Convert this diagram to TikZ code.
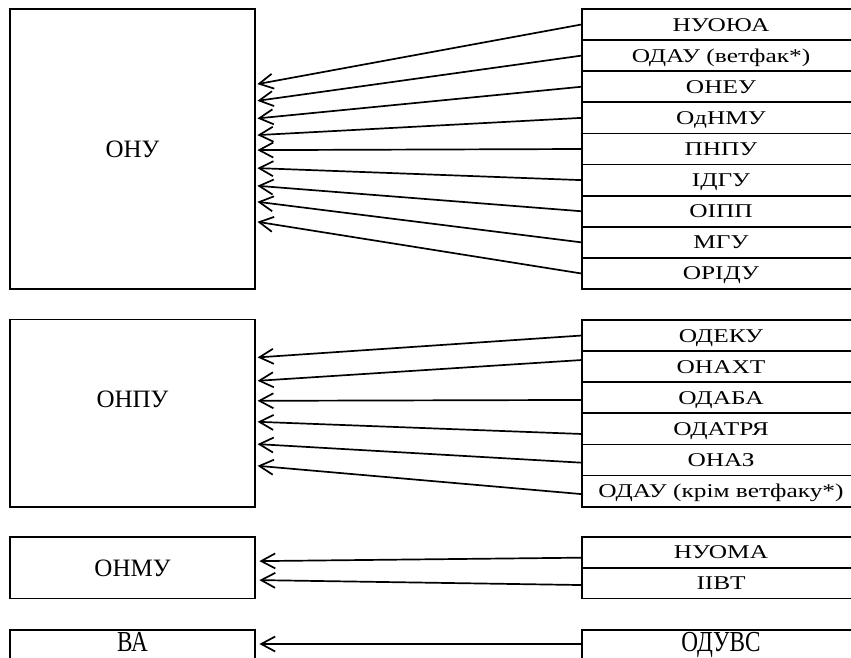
\documentclass[tikz,border=0pt]{standalone}
\usepackage{fontspec}
\setmainfont{Liberation Serif}
\newfontfamily\rfont{Liberation Serif}[FakeStretch=1.3]
\newfontfamily\bfont{Liberation Serif}[FakeStretch=0.8]
\usetikzlibrary{arrows.meta,calc}
\begin{document}
\begin{tikzpicture}[x=1pt,y=-1pt,
  lbox/.style={draw,line width=1.8pt,inner sep=0pt,minimum width=245pt,
    font=\fontsize{25}{25}\selectfont,text height=16.5pt,text depth=0pt},
  ltext/.style={inner sep=0pt,font=\fontsize{25}{25}\selectfont,text height=16.5pt,text depth=0pt},
  rrow/.style={draw,line width=1.8pt,inner sep=0pt,minimum width=278pt,
    font=\rfont\fontsize{19.5}{19.5}\selectfont,text height=12.9pt,text depth=0pt},
  bbox/.style={draw,line width=1.8pt,inner sep=0pt,minimum height=31pt,
    font=\bfont\fontsize{29}{30}\selectfont,text height=19.2pt,text depth=8pt},
  arr/.style={line width=1.7pt,-{Straight Barb[length=14pt,width=15pt]}}]
\useasboundingbox (0,0) rectangle (851,657);

% ---------- group 1 ----------
\node[lbox,minimum height=280pt] (L1) at (132.5,149) {ОНУ};
\foreach \t [count=\i] in {НУОЮА,ОДАУ (ветфак*),ОНЕУ,ОдНМУ,ПНПУ,ІДГУ,ОІПП,МГУ,ОРІДУ}
  \node[rrow,minimum height=31.11pt] (a\i) at (721,{9+31.11*(\i-0.5)}) {\t};
\foreach \y [count=\i] in {85,101.7,119.3,136,151,169,186.7,202.7,222.7}
  \draw[arr] (a\i.west) -- ($(L1.north east)+(1.5,{\y-9})$);

% ---------- group 2 ----------
\node[lbox,minimum height=187.5pt] (L2) at (132.5,413.25) {};
\node[ltext] (L2t) at ($(L2.center)+(0,-14)$) {ОНПУ};
\foreach \t [count=\i] in {ОДЕКУ,ОНАХТ,ОДАБА,ОДАТРЯ,ОНАЗ,ОДАУ (крім ветфаку*)}
  \node[rrow,minimum height=31.1pt] (b\i) at (721,{320+31.1*(\i-0.5)}) {\t};
\foreach \o/\y [count=\i] in {0/358.3,-6.6/381.7,2.2/401.7,5.1/422.7,2.7/445,3/466.7}
  \draw[arr] ($(b\i.west)+(0,\o)$) -- ($(L2.north east)+(1.7,{\y-319.5})$);

% ---------- group 3 ----------
\node[lbox,minimum height=61.5pt] (L3) at (132.5,567.75) {ОНМУ};
\foreach \t [count=\i] in {НУОМА,ІІВТ}
  \node[rrow,minimum height=30.75pt] (c\i) at (721,{537+30.75*(\i-0.5)}) {\t};
\foreach \o/\y [count=\i] in {5.3/562,1.9/581}
  \draw[arr] ($(c\i.west)+(0,\o)$) -- ($(L3.north east)+(3.5,{\y-537})$);

% ---------- group 4 ----------
\node[bbox,minimum width=245pt] (L4) at (132.5,645.5) {ВА};
\node[bbox,minimum width=278pt] (d1) at (721,645.5) {ОДУВС};
\draw[arr] ($(d1.west)+(0,-1.5)$) -- ($(L4.east)+(3.5,-1.5)$);
\end{tikzpicture}
\end{document}
